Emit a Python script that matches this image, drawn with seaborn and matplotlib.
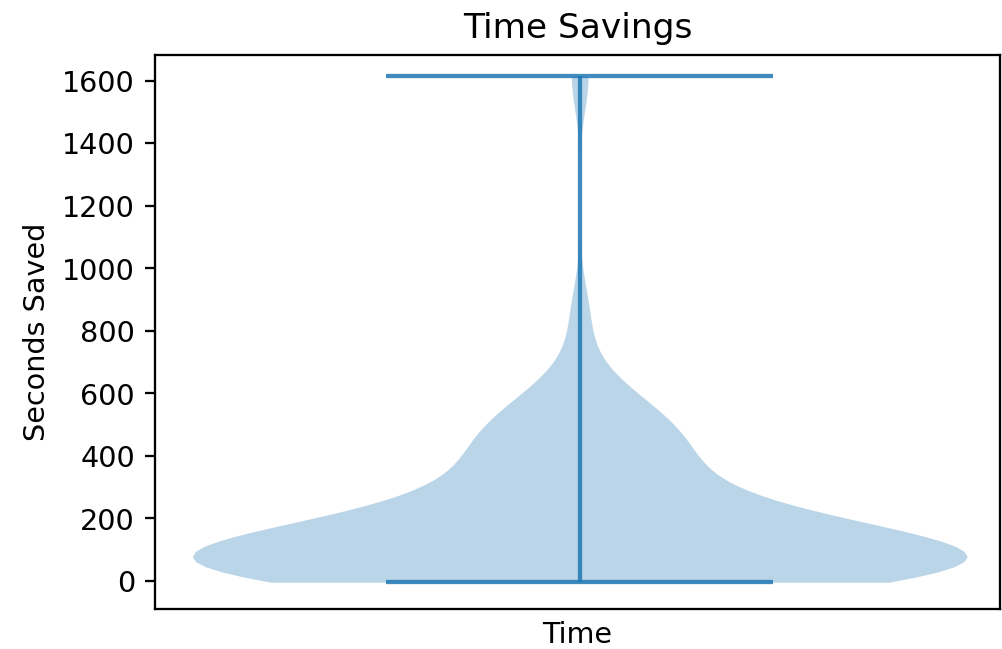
import numpy as np
import pandas as pd
import matplotlib
matplotlib.use("Agg")
import matplotlib.pyplot as plt
import seaborn as sns

seconds_saved = [
    -4, 1, 7, 13, 18, 22, 26, 29, 32, 35, 37, 39, 41, 43, 45, 47, 48, 49, 51,
    52, 54, 55, 57, 58, 59, 61, 63, 65, 67, 69, 72, 76, 80, 85, 89, 93, 97, 102,
    108, 114, 120, 127, 135, 145, 155, 168, 182,
    195, 212, 225, 235, 245, 258, 275,
    228, 289, 322, 348, 370, 389, 406, 423, 440, 457, 474, 491, 510, 532, 558,
    591, 652,
    850, 1614,
]
category_label = "Time"
title_text = "Time Savings"
y_label = "Seconds Saved"

plt.rcdefaults()
fig = plt.figure(figsize=(1002.3 / 206, 649.3 / 206), dpi=206)
ax = fig.add_axes([0.1547, 0.0616, 0.9975 - 0.1547, 0.9153 - 0.0616])

df = pd.DataFrame({y_label: seconds_saved})
sns.violinplot(data=df, y=y_label, ax=ax, cut=0, inner=None, width=0.5,
               color="C0", saturation=1, linewidth=0, alpha=0.3)

# extrema markers (like matplotlib's showextrema)
ymin, ymax = min(seconds_saved), max(seconds_saved)
ax.vlines(0, ymin, ymax, colors="C0", linewidth=1.5, alpha=0.85)
ax.hlines([ymin, ymax], -0.125, 0.125, colors="C0", linewidth=1.5, alpha=0.85)

ax.set_xlim(-0.274, 0.271)
ax.set_ylim(-89.6, 1683)
ax.set_xticks([])
ax.set_xlabel(category_label)
ax.set_ylabel(y_label)
ax.set_title(title_text)
for s in ax.spines.values():
    s.set_visible(True)
    s.set_color("black")

fig.savefig("out.png", dpi=206)
